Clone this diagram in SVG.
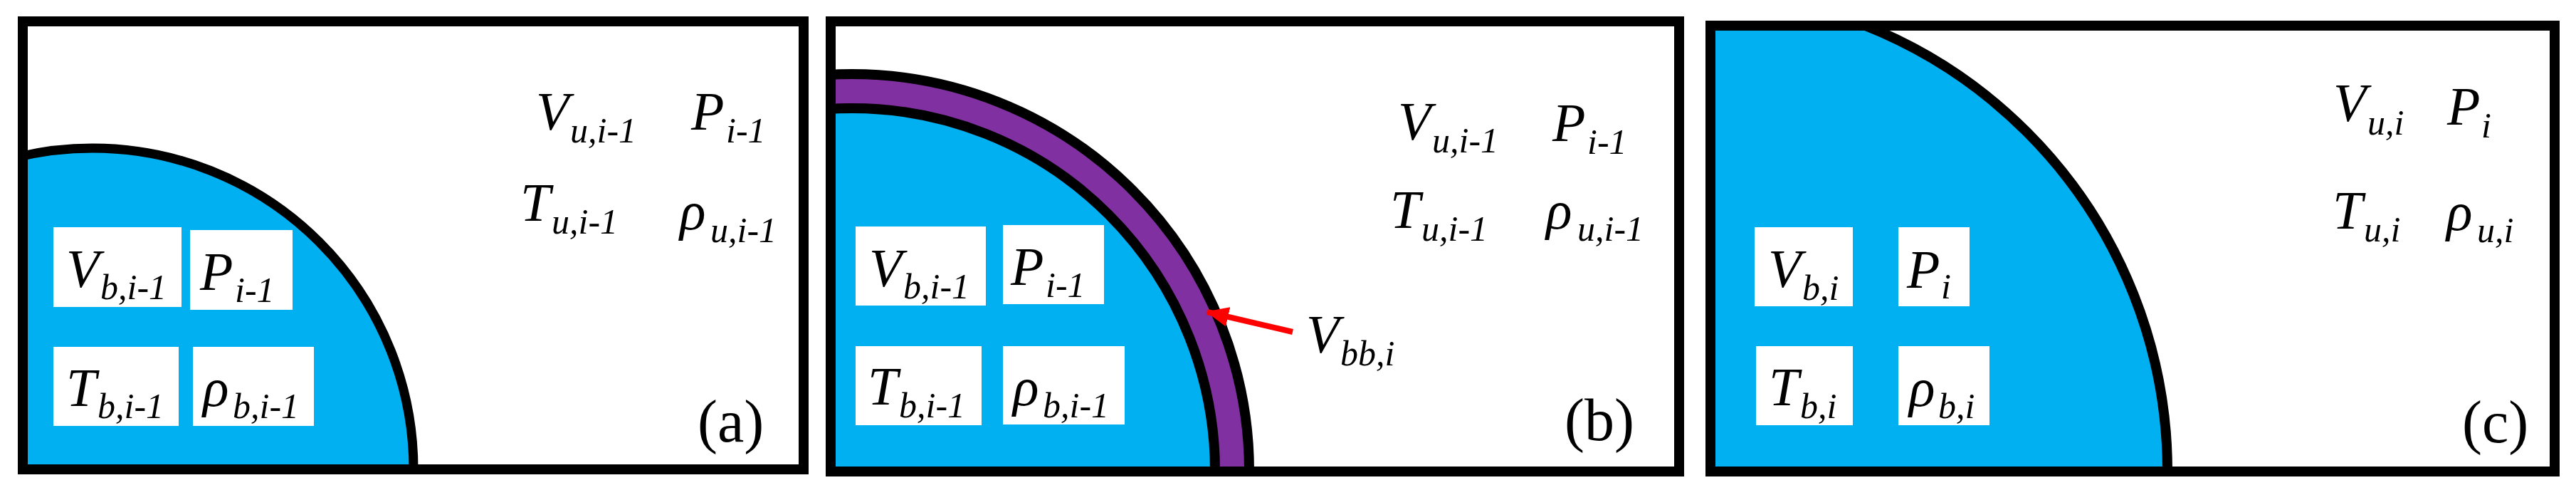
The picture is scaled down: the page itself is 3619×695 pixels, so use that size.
<svg xmlns="http://www.w3.org/2000/svg" width="3619" height="695" viewBox="0 0 3619 695">
<style>
.frame{fill:none;stroke:#000;stroke-width:14}
.bub{fill:#00B0F0;stroke:#000;stroke-width:13}
.shell{fill:#8030A0;stroke:#000;stroke-width:14}
.box{fill:#fff}
text{font-family:'Liberation Serif','DejaVu Serif',serif;fill:#000}
.m{font-style:italic;font-size:76px}
.s{font-size:50px}
.tag{font-style:normal;font-size:84px}
</style>
<defs>
<clipPath id="ca"><rect x="25" y="23" width="1111" height="643"/></clipPath>
<clipPath id="cb"><rect x="1160" y="23" width="1206" height="646"/></clipPath>
<clipPath id="cc"><rect x="2396" y="29" width="1200" height="640"/></clipPath>
<marker id="ah" markerUnits="userSpaceOnUse" markerWidth="40" markerHeight="34" refX="30" refY="14" orient="auto">
<path d="M0,0 L32,14 L0,28 Z" fill="#FF0000"/>
</marker>
</defs>
<rect width="3619" height="695" fill="#fff"/>

<g id="panel-a">
<g clip-path="url(#ca)"><circle class="bub" cx="130" cy="659" r="451"/></g>
<rect class="frame" x="32" y="30" width="1097" height="629"/>
<g id="a-vb"><rect class="box" x="75" y="319" width="180" height="112"/><text class="m" x="93" y="403">V<tspan class="s" x="141" y="420">b,i-1</tspan></text></g>
<g id="a-pb"><rect class="box" x="267" y="323" width="144" height="112"/><text class="m" x="281" y="407">P<tspan class="s" x="330" y="424">i-1</tspan></text></g>
<g id="a-tb"><rect class="box" x="75" y="487" width="176" height="111"/><text class="m" x="93" y="570">T<tspan class="s" x="137" y="587">b,i-1</tspan></text></g>
<g id="a-rb"><rect class="box" x="271" y="487" width="170" height="111"/><text class="m" x="285" y="570">ρ<tspan class="s" x="327" y="587">b,i-1</tspan></text></g>
<g id="a-vu"><text class="m" x="753" y="182">V<tspan class="s" x="801" y="200">u,i-1</tspan></text></g>
<g id="a-pu"><text class="m" x="971" y="182">P<tspan class="s" x="1020" y="200">i-1</tspan></text></g>
<g id="a-tu"><text class="m" x="731" y="310">T<tspan class="s" x="775" y="328">u,i-1</tspan></text></g>
<g id="a-ru"><text class="m" x="955" y="322">ρ<tspan class="s" x="998" y="340">u,i-1</tspan></text></g>
<text id="a-tag" class="tag" x="980" y="620">(a)</text>
</g>

<g id="panel-b">
<g clip-path="url(#cb)"><circle class="shell" cx="1197" cy="662" r="558"/><circle class="bub" cx="1197" cy="662" r="510" style="stroke-width:14"/></g>
<rect class="frame" x="1167" y="30" width="1192" height="632"/>
<g id="b-vb"><rect class="box" x="1202" y="318" width="183" height="111"/><text class="m" x="1221" y="402">V<tspan class="s" x="1269" y="419">b,i-1</tspan></text></g>
<g id="b-pb"><rect class="box" x="1409" y="316" width="142" height="111"/><text class="m" x="1420" y="400">P<tspan class="s" x="1469" y="417">i-1</tspan></text></g>
<g id="b-tb"><rect class="box" x="1202" y="486" width="177" height="111"/><text class="m" x="1219" y="568">T<tspan class="s" x="1263" y="586">b,i-1</tspan></text></g>
<g id="b-rb"><rect class="box" x="1409" y="486" width="171" height="110"/><text class="m" x="1423" y="569">ρ<tspan class="s" x="1465" y="586">b,i-1</tspan></text></g>
<g id="b-vu"><text class="m" x="1964" y="196">V<tspan class="s" x="2012" y="214">u,i-1</tspan></text></g>
<g id="b-pu"><text class="m" x="2181" y="198">P<tspan class="s" x="2230" y="216">i-1</tspan></text></g>
<g id="b-tu"><text class="m" x="1953" y="320">T<tspan class="s" x="1997" y="338">u,i-1</tspan></text></g>
<g id="b-ru"><text class="m" x="2172" y="321">ρ<tspan class="s" x="2216" y="338">u,i-1</tspan></text></g>
<g id="b-vbb"><text class="m" x="1835" y="495">V<tspan class="s" x="1883" y="513">bb,i</tspan></text></g>
<text id="b-tag" class="tag" x="2198" y="618">(b)</text>
</g>

<g id="panel-c">
<g clip-path="url(#cc)"><circle class="bub" cx="2371" cy="662" r="674" style="stroke-width:14"/></g>
<rect class="frame" x="2403" y="36" width="1186" height="626"/>
<g id="c-vb"><rect class="box" x="2465" y="319" width="138" height="111"/><text class="m" x="2484" y="403">V<tspan class="s" x="2532" y="421">b,i</tspan></text></g>
<g id="c-pb"><rect class="box" x="2667" y="319" width="100" height="111"/><text class="m" x="2679" y="404">P<tspan class="s" x="2727" y="419">i</tspan></text></g>
<g id="c-tb"><rect class="box" x="2467" y="486" width="136" height="111"/><text class="m" x="2485" y="569">T<tspan class="s" x="2529" y="587">b,i</tspan></text></g>
<g id="c-rb"><rect class="box" x="2667" y="486" width="128" height="111"/><text class="m" x="2682" y="570">ρ<tspan class="s" x="2723" y="587">b,i</tspan></text></g>
<g id="c-vu"><text class="m" x="3278" y="170">V<tspan class="s" x="3326" y="189">u,i</tspan></text></g>
<g id="c-pu"><text class="m" x="3438" y="175">P<tspan class="s" x="3486" y="193">i</tspan></text></g>
<g id="c-tu"><text class="m" x="3277" y="321">T<tspan class="s" x="3321" y="339">u,i</tspan></text></g>
<g id="c-ru"><text class="m" x="3437" y="323">ρ<tspan class="s" x="3480" y="340">u,i</tspan></text></g>
<text id="c-tag" class="tag" x="3459" y="621">(c)</text>
</g>

<g id="connectors">
<line x1="1816" y1="466" x2="1696" y2="438" stroke="#FF0000" stroke-width="8" marker-end="url(#ah)"/>
</g>
</svg>
